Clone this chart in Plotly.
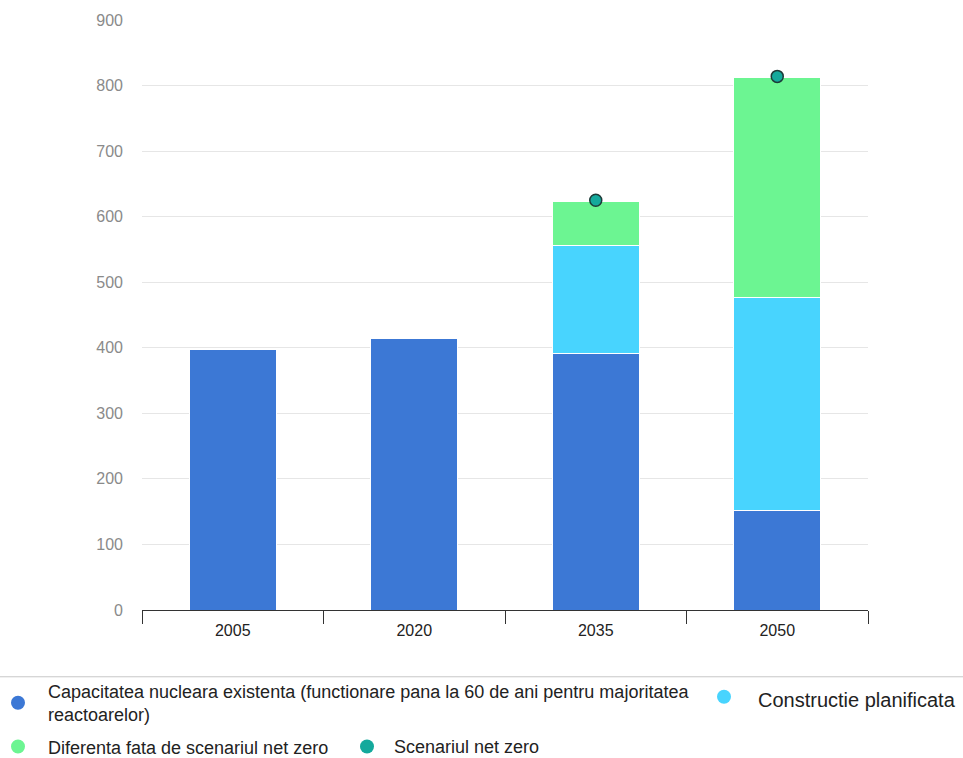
import plotly.graph_objects as go

years = ["2005", "2020", "2035", "2050"]
existing = [397, 414, 391, 152]
planned = [0, 0, 165, 325]
gap_netzero = [0, 0, 67, 336]
netzero_years = ["2035", "2050"]
netzero = [625, 814]

names = [
    "Capacitatea nucleara existenta (functionare pana la 60 de ani pentru majoritatea<br>reactoarelor)",
    "Constructie planificata",
    "Diferenta fata de scenariul net zero",
    "Scenariul net zero",
]
colors = ["#3C78D5", "#48D4FE", "#6CF592", "#14A99C"]

W, H = 963, 758
L, R, T, B = 142, 868, 18, 610

fig = go.Figure()
for vals, col in zip([existing, planned, gap_netzero], colors[:3]):
    fig.add_trace(go.Bar(x=years, y=vals, marker=dict(color=col, line=dict(color="white", width=1)),
                         showlegend=False, hoverinfo="y"))
fig.add_trace(go.Scatter(x=netzero_years, y=netzero, mode="markers", showlegend=False,
                         marker=dict(color=colors[3], size=12, line=dict(color="#1d3b38", width=1.5))))

def px(x):
    return (x - L) / (R - L)

def py(y):
    return (B - y) / (B - T)

shapes = [dict(type="line", xref="paper", yref="paper", x0=px(0), x1=px(W), y0=py(677), y1=py(677),
               line=dict(color="#c8c8c8", width=1))]
annotations = []
legend_items = [
    (18, 703, 46, 704, names[0], colors[0], 18),
    (724, 697, 756, 700, names[1], colors[1], 20),
    (18, 747, 46, 748, names[2], colors[2], 18),
    (367, 747, 392, 747, names[3], colors[3], 18),
]
for mx, my, tx, ty, txt, col, fs in legend_items:
    shapes.append(dict(type="circle", xref="paper", yref="paper", xsizemode="pixel", ysizemode="pixel",
                       xanchor=px(mx), yanchor=py(my), x0=-7, x1=7, y0=-7, y1=7,
                       fillcolor=col, line=dict(width=0)))
    annotations.append(dict(xref="paper", yref="paper", x=px(tx), y=py(ty), text=txt, showarrow=False,
                            xanchor="left", yanchor="middle", align="left",
                            font=dict(size=fs, color="#222", family="Liberation Sans, Arial")))

fig.update_layout(
    width=W, height=H, barmode="stack", bargap=0.52,
    plot_bgcolor="white", paper_bgcolor="white",
    margin=dict(l=L, r=W - R, t=T, b=H - B),
    font=dict(family="Liberation Sans, Arial"),
    shapes=shapes, annotations=annotations, showlegend=False,
    xaxis=dict(type="category", showline=True, linecolor="#333", linewidth=1, ticks="outside",
               tickson="boundaries", ticklen=13, tickcolor="#333", tickfont=dict(size=16, color="#222"),
               ticklabelstandoff=6, showgrid=False),
    yaxis=dict(range=[0, 900], dtick=100, showgrid=True, gridcolor="#e6e6e6", gridwidth=1,
               zeroline=False, showline=False, ticks="", ticklabelstandoff=18,
               tickfont=dict(size=16, color="#8a8a8a")),
)
fig.write_html("out.html")
